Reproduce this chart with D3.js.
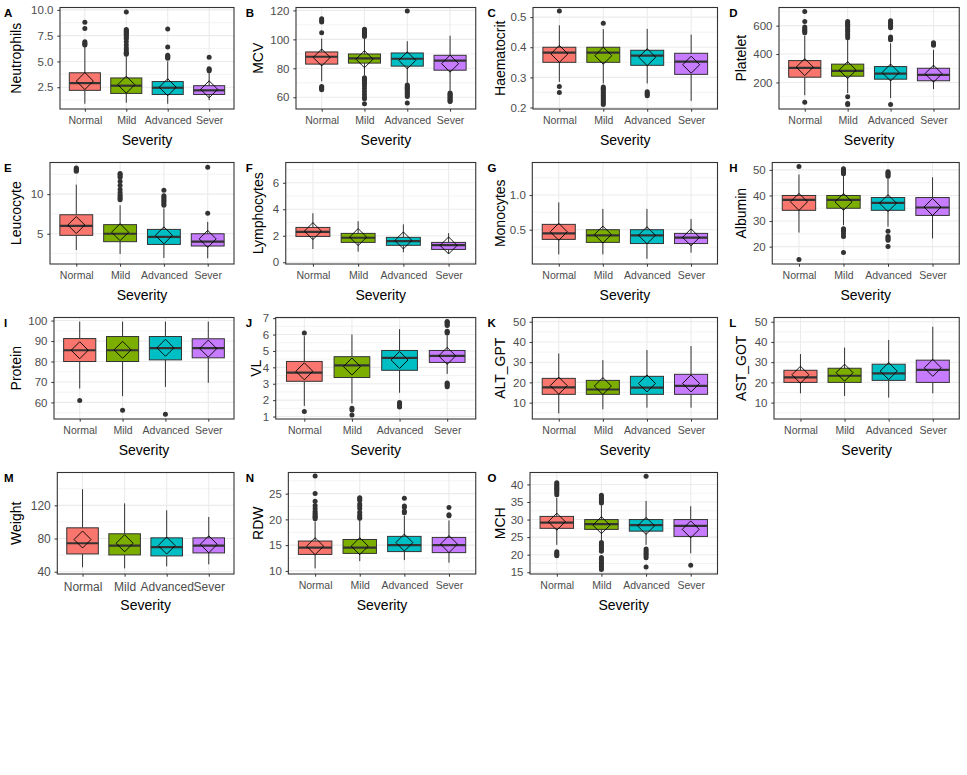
<!DOCTYPE html>
<html lang="en">
<head>
  <meta charset="UTF-8">
  <title>Blood markers by severity</title>
  <script src="https://d3js.org/d3.v7.min.js"></script>
  <style>
    body { margin: 0; background: #fff; }
    svg { display: block; font-family: "Liberation Sans", Arial, sans-serif; }
  </style>
</head>
<body>
<svg width="967" height="775"></svg>
<script>
  // categories and panels
  const severity = ["Normal", "Mild", "Advanced", "Sever"]
  const letters = ["A", "B", "C", "D", "E", "F", "G", "H", "I", "J", "K", "L", "M", "N", "O"]
  const variables = ["Neutrophils", "MCV", "Haematocrit", "Platelet", "Leucocyte", "Lymphocytes", "Monocytes",
    "Albumin", "Protein", "VL", "ALT_GPT", "AST_GOT", "Weight", "RDW", "MCH"]

  // box statistics, one row per panel, one value per severity
  const lowWhisker = [
    [0.9, 1.0, 0.9, 1.25], [71, 75, 70, 64.5], [0.285, 0.28, 0.28, 0.222], [110, 125, 90, 153],
    [2.95, 2.45, 1.95, 1.9], [1.0, 0.8, 0.75, 0.65], [0.144, 0.144, 0.08, 0.17], [25.5, 28.4, 27.8, 23.2],
    [66.8, 63.1, 67.6, 69.6], [1.65, 1.8, 2.45, 3.6], [4.7, 6.7, 7.5, 7.5], [14.6, 13.3, 12.5, 14.6],
    [45.3, 44, 46.5, 48.9], [10.5, 11.9, 12.1, 11.6], [22.8, 24, 22.8, 20.4]
  ]
  const q1 = [
    [2.2, 1.9, 1.8, 1.8], [82.9, 83.6, 81.5, 78.7], [0.35, 0.35, 0.34, 0.31], [237, 244, 223, 212],
    [4.8, 4.0, 3.65, 3.45], [1.95, 1.5, 1.28, 0.97], [0.36, 0.317, 0.30, 0.30], [34.2, 35, 34.2, 32.2],
    [80, 80, 80.8, 81.8], [3.15, 3.38, 3.82, 4.3], [14.1, 14.1, 14.1, 14.1], [20, 20, 21, 20],
    [61.4, 60.2, 59, 62.6], [13.2, 13.4, 13.75, 13.55], [27.5, 27.2, 26.7, 25.2]
  ]
  const median = [
    [2.9, 2.65, 2.45, 2.2], [88, 86.9, 86.6, 85.3], [0.382, 0.382, 0.372, 0.352], [303, 282, 262, 254],
    [6.0, 5.0, 4.6, 4.0], [2.3, 1.85, 1.6, 1.3], [0.447, 0.418, 0.418, 0.385], [38.3, 38.3, 37.1, 35.3],
    [85.5, 85.5, 86.5, 86.5], [3.68, 4.12, 4.58, 4.7], [17.5, 16.5, 17.4, 18.3], [22.5, 23.3, 24.5, 26.2],
    [74.3, 71.5, 69.5, 71.5], [14.5, 14.5, 15.0, 15.0], [29.1, 28.7, 28.4, 28.2]
  ]
  const q3 = [
    [3.9, 3.4, 3.05, 2.65], [91.3, 89.9, 90.6, 89], [0.40, 0.40, 0.39, 0.38], [354, 329, 312, 300],
    [7.4, 6.15, 5.55, 5.0], [2.63, 2.18, 1.88, 1.5], [0.577, 0.5, 0.5, 0.447], [40, 40, 39.2, 39.2],
    [91.2, 92.2, 92.2, 91.1], [4.36, 4.65, 5.03, 5.03], [22, 21, 23, 24], [26, 27, 29, 31],
    [92.9, 85.7, 80.8, 80.8], [15.8, 16.1, 16.7, 16.5], [30.9, 30, 30, 30]
  ]
  const highWhisker = [
    [6.55, 5.5, 5.0, 3.95], [100.5, 101, 98.7, 102.5], [0.473, 0.46, 0.461, 0.442], [530, 500, 476, 430],
    [11.2, 8.6, 8.2, 6.5], [3.7, 3.1, 2.86, 2.2], [0.894, 0.80, 0.80, 0.654], [48.2, 48, 46.6, 47.1],
    [99.5, 99.5, 99.5, 99.5], [5.9, 6.0, 6.33, 5.95], [34.3, 31, 36, 38], [34, 37.2, 41, 47.5],
    [139.4, 122.4, 114, 106], [19.6, 19.9, 20.7, 19.8], [36.2, 34.1, 35.3, 33.8]
  ]
  const means = [
    [3.1, 2.75, 2.5, 2.3], [87.5, 86.3, 85.5, 83.2], [0.378, 0.372, 0.367, 0.342], [308, 287, 270, 262],
    [6.1, 5.2, 4.8, 4.35], [2.35, 1.9, 1.65, 1.27], [0.47, 0.43, 0.42, 0.39], [37.5, 37.5, 37, 35.5],
    [85.5, 85.7, 86.7, 86.3], [3.76, 4.05, 4.45, 4.7], [18.4, 18.2, 19.5, 19.5], [23.8, 24.8, 25.6, 27.2],
    [78.8, 74.3, 71.5, 73], [14.8, 14.8, 15.5, 15.2], [29.4, 28.4, 28.2, 27.2]
  ]
  const outliers = [
    [[8.8, 8.2, 6.9, 6.8, 6.7, 6.6],
     [9.8, 8.1, 8.0, 7.9, 7.8, 7.7, 7.6, 7.5, 7.3, 7.2, 6.9, 6.6, 6.3, 6.1, 5.9, 5.8, 5.7],
     [8.15, 6.4, 5.6, 5.5, 5.4, 5.3], [5.4, 4.3, 4.2, 4.1]],
    [[114.3, 113, 112, 104.5, 67.5, 66.5, 66, 65.2],
     [107, 106.3, 105.6, 105, 104.2, 103.5, 102.8, 102, 73.5, 72.5, 71.5, 70.5, 69.5, 68, 66, 64, 62, 60, 59, 55.5],
     [119.5, 68.5, 67.8, 67, 66.2, 65.5, 64.5, 63.5, 62.5, 61.5, 60.5, 56],
     [63, 62.2, 61.5, 60.8, 60, 59.2, 58.5, 57.5, 57]],
    [[0.52, 0.27, 0.25],
     [0.48, 0.268, 0.264, 0.26, 0.256, 0.25, 0.245, 0.24, 0.235, 0.23, 0.225, 0.22, 0.215, 0.21],
     [0.252, 0.247, 0.243, 0.239], []],
    [[700, 630, 590, 580, 570, 560, 550, 60],
     [630, 620, 610, 600, 590, 575, 560, 545, 530, 515, 100, 52, 45],
     [635, 625, 615, 605, 595, 585, 520, 510, 500, 45], [480, 470, 462]],
    [[13.3, 13.2, 13.1, 13.0, 12.9],
     [12.6, 12.5, 12.3, 12.1, 11.6, 11.1, 10.6, 10.2, 9.9, 9.7, 9.5, 9.3],
     [10.5, 9.8, 9.6, 9.4, 9.2, 9.0, 8.8, 8.6], [13.4, 7.6]],
    [[], [], [], []],
    [[], [], [], []],
    [[51.3, 15], [50.5, 50, 49.5, 49, 48.5, 27, 26.5, 26, 25, 24, 17.7],
     [49.3, 48.9, 48.5, 48, 47.5, 26, 24, 23.5, 23, 22.5, 20], []],
    [[61], [56.2], [54.2], []],
    [[6.1, 1.3], [1.5, 1.4, 1.1], [1.85, 1.75, 1.65, 1.58],
     [6.8, 6.75, 6.7, 6.62, 6.55, 6.2, 6.15, 6.1, 3.05, 2.98, 2.9, 2.82]],
    [[], [], [], []],
    [[], [], [], []],
    [[], [], [], []],
    [[28.4, 25, 23.5, 22.7, 22.1, 21.6, 21.2, 20.9, 20.6, 20.4, 20.1],
     [24.2, 24.0, 23.7, 23.0, 22.6, 22.1, 21.4, 20.9, 20.5, 20.2],
     [24.1, 22.6, 22.3, 21.6, 21.3], [22.3, 20.9, 20.7]],
    [[40.5, 40.1, 39.7, 39.3, 38.9, 38.5, 38.1, 37.6, 37.1, 20.8, 20.4, 20.0, 19.7],
     [36.9, 36.5, 36.1, 35.7, 35.2, 34.7, 23.5, 23.0, 22.5, 22.0, 21.5, 21.0, 19.2, 18.7, 18.2, 17.7, 17.2, 16.7, 16.2, 15.8],
     [42.3, 21.6, 21.1, 20.6, 20.1, 19.6, 19.1, 16.5], [17]]
  ]

  // y axis limits and ticks
  const yDomain = [
    [0.39, 10.23], [51.9, 122], [0.195, 0.532], [13, 728], [1.18, 14.0], [-0.13, 7.53], [0.005, 1.47],
    [13.2, 52.9], [51.9, 101.5], [0.85, 7.04], [1.9, 52.1], [1.9, 52.1], [37.2, 159.6], [9.4, 29.1], [14.5, 43.4]
  ]
  const yTicks = [
    [2.5, 5, 7.5, 10], [60, 80, 100, 120], [0.2, 0.3, 0.4, 0.5], [200, 400, 600], [5, 10], [0, 2, 4, 6],
    [0.5, 1.0], [20, 30, 40, 50], [60, 70, 80, 90, 100], [1, 2, 3, 4, 5, 6, 7], [10, 20, 30, 40, 50],
    [10, 20, 30, 40, 50], [40, 80, 120], [10, 15, 20, 25], [15, 20, 25, 30, 35, 40]
  ]
  const yTickLabels = [
    ["2.5", "5.0", "7.5", "10.0"], ["60", "80", "100", "120"], ["0.2", "0.3", "0.4", "0.5"], ["200", "400", "600"],
    ["5", "10"], ["0", "2", "4", "6"], ["0.5", "1.0"], ["20", "30", "40", "50"], ["60", "70", "80", "90", "100"],
    ["1", "2", "3", "4", "5", "6", "7"], ["10", "20", "30", "40", "50"], ["10", "20", "30", "40", "50"],
    ["40", "80", "120"], ["10", "15", "20", "25"], ["15", "20", "25", "30", "35", "40"]
  ]

  // layout
  const fills = ["#F8766D", "#7CAE00", "#00BFC4", "#C77CFF"]
  const plotLeft = [60, 54.25, 49.5, 53.75, 50, 44, 48.8, 47, 54, 34, 48.8, 48.75, 57.3, 46.6, 46.5]
  const titleX = [21, 21, 21, 21, 21, 21, 21, 21, 21, 19.5, 21, 21, 21, 21, 21]
  const cellW = 967 / 4
  const cellH = 155
  const ink = "#333333"

  const svg = d3.select("svg")

  variables.forEach((name, i) => {
    const cx = (i % 4) * cellW
    const cy = Math.floor(i / 4) * cellH
    const left = cx + plotLeft[i]
    const right = cx + 234
    const top = cy + 7.5
    const bottom = cy + 109
    const xFont = i === 12 ? 12 : 10.5
    const yFont = i === 12 ? 12 : 11.5

    const x = d3.scalePoint().domain(severity).range([left, right]).padding(0.6)
    const y = d3.scaleLinear().domain(yDomain[i]).range([bottom, top])
    const bw = x.step() * 0.75

    const g = svg.append("g")

    // grid: minor lines halfway between ticks
    const ticks = yTicks[i]
    const step = ticks[1] - ticks[0]
    const minor = []
    for (let k = -1; k < ticks.length; k++) {
      const v = ticks[0] + step * (k + 0.5)
      if (v > yDomain[i][0] && v < yDomain[i][1]) minor.push(v)
    }
    g.append("g").selectAll("line").data(minor).join("line")
      .attr("x1", left).attr("x2", right)
      .attr("y1", d => y(d)).attr("y2", d => y(d))
      .attr("stroke", "#EBEBEB").attr("stroke-width", 0.6)
    g.append("g").selectAll("line").data(ticks).join("line")
      .attr("x1", left).attr("x2", right)
      .attr("y1", d => y(d)).attr("y2", d => y(d))
      .attr("stroke", "#EBEBEB").attr("stroke-width", 1.1)
    g.append("g").selectAll("line").data(severity).join("line")
      .attr("x1", d => x(d)).attr("x2", d => x(d))
      .attr("y1", top).attr("y2", bottom)
      .attr("stroke", "#EBEBEB").attr("stroke-width", 1.1)

    const stats = severity.map((s, j) => ({
      s, j,
      lo: lowWhisker[i][j], q1: q1[i][j], med: median[i][j], q3: q3[i][j], hi: highWhisker[i][j],
      mean: means[i][j], out: outliers[i][j]
    }))

    const box = g.append("g").selectAll("g").data(stats).join("g")
    box.append("line")
      .attr("x1", d => x(d.s)).attr("x2", d => x(d.s))
      .attr("y1", d => y(d.hi)).attr("y2", d => y(d.q3))
      .attr("stroke", ink).attr("stroke-width", 1)
    box.append("line")
      .attr("x1", d => x(d.s)).attr("x2", d => x(d.s))
      .attr("y1", d => y(d.q1)).attr("y2", d => y(d.lo))
      .attr("stroke", ink).attr("stroke-width", 1)
    box.append("rect")
      .attr("x", d => x(d.s) - bw / 2).attr("width", bw)
      .attr("y", d => y(d.q3)).attr("height", d => y(d.q1) - y(d.q3))
      .attr("fill", d => fills[d.j]).attr("stroke", ink).attr("stroke-width", 1)
    box.append("line")
      .attr("x1", d => x(d.s) - bw / 2).attr("x2", d => x(d.s) + bw / 2)
      .attr("y1", d => y(d.med)).attr("y2", d => y(d.med))
      .attr("stroke", ink).attr("stroke-width", 2.2)
    box.selectAll("circle").data(d => d.out.map(v => ({ s: d.s, v }))).join("circle")
      .attr("cx", d => x(d.s)).attr("cy", d => y(d.v)).attr("r", 2.5)
      .attr("fill", ink)
    // mean diamond
    box.append("path")
      .attr("d", d => {
        const px = x(d.s), py = y(d.mean), r = 8.5
        return `M${px},${py - r}L${px + r},${py}L${px},${py + r}L${px - r},${py}Z`
      })
      .attr("fill", "none").attr("stroke", "#000").attr("stroke-width", 0.9)

    // border
    g.append("rect")
      .attr("x", left).attr("y", top)
      .attr("width", right - left).attr("height", bottom - top)
      .attr("fill", "none").attr("stroke", ink).attr("stroke-width", 1.1)

    // axes
    const yAxis = g.append("g")
      .attr("transform", `translate(${left},0)`)
      .call(d3.axisLeft(y).tickValues(ticks).tickFormat((d, k) => yTickLabels[i][k]).tickSize(2.7).tickPadding(3.8))
    const xAxis = g.append("g")
      .attr("transform", `translate(0,${bottom})`)
      .call(d3.axisBottom(x).tickSize(2.7).tickPadding(5.3))
    ;[yAxis, xAxis].forEach(a => {
      a.select(".domain").remove()
      a.selectAll(".tick line").attr("stroke", ink).attr("stroke-width", 1)
      a.selectAll("text").attr("fill", "#4D4D4D").attr("font-family", "Liberation Sans, Arial, sans-serif")
    })
    yAxis.selectAll("text").attr("font-size", yFont)
    xAxis.selectAll("text").attr("font-size", xFont)

    // titles
    g.append("text")
      .attr("transform", `translate(${cx + titleX[i]},${(top + bottom) / 2}) rotate(-90)`)
      .attr("text-anchor", "middle")
      .attr("font-size", 14)
      .text(name)
    g.append("text")
      .attr("x", (left + right) / 2).attr("y", cy + 144.5)
      .attr("text-anchor", "middle")
      .attr("font-size", 14)
      .text("Severity")
    g.append("text")
      .attr("x", cx + 4).attr("y", cy + 17)
      .attr("font-size", 11.5).attr("font-weight", "bold")
      .text(letters[i])
  })
</script>
</body>
</html>
